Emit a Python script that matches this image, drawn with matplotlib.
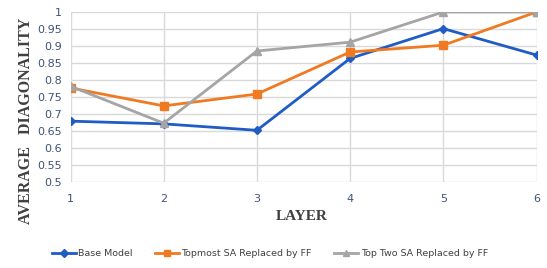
import matplotlib
matplotlib.use("Agg")
import matplotlib.pyplot as plt

layers = [1, 2, 3, 4, 5, 6]
base_model = [0.678, 0.670, 0.651, 0.863, 0.951, 0.873]
topmost_sa = [0.776, 0.723, 0.758, 0.882, 0.902, 1.0]
top_two_sa = [0.781, 0.672, 0.885, 0.911, 1.0, 1.0]
yticks = [0.5, 0.55, 0.6, 0.65, 0.7, 0.75, 0.8, 0.85, 0.9, 0.95, 1.0]
ytick_labels = ["0.5", "0.55", "0.6", "0.65", "0.7", "0.75", "0.8", "0.85", "0.9", "0.95", "1"]

fig = plt.figure(figsize=(5.47, 2.68), dpi=100)
ax = fig.add_axes([70.5/547, 1 - 181.5/268, (536.5-70.5)/547, (181.5-12)/268])

tick_color = "#3f5277"
ax.plot(layers, base_model, color="#1f5cc4", lw=2, marker="D", ms=4.5, label="Base Model")
ax.plot(layers, topmost_sa, color="#f07a22", lw=2, marker="s", ms=5.5, label="Topmost SA Replaced by FF")
ax.plot(layers, top_two_sa, color="#a5a5a5", lw=2, marker="^", ms=5.5, label="Top Two SA Replaced by FF")

ax.set_xlim(1, 6)
ax.set_ylim(0.5, 1.0)
ax.set_xticks(layers)
ax.set_yticks(yticks)
ax.set_yticklabels(ytick_labels)
ax.grid(True, color="#d9d9d9", lw=1)
ax.set_axisbelow(True)
for s in ax.spines.values():
    s.set_visible(False)
ax.tick_params(length=0, labelsize=8, colors=tick_color, pad=6)
ax.tick_params(axis="x", pad=9)

fig.text(302/547, 1 - 216/268, "LAYER", ha="center", va="center",
         family="Liberation Serif", fontweight="bold", fontsize=11, color="#404040")
fig.text(26/547, 1 - 121/268, "AVERAGE   DIAGONALITY", ha="center", va="center", rotation=90,
         family="Liberation Serif", fontweight="bold", fontsize=11.5, color="#404040")

fig.legend(loc="center", bbox_to_anchor=(0.493, 1 - 254/268), ncol=3, frameon=False,
           fontsize=6.8, handlelength=2.6, handletextpad=0.25, columnspacing=2.3,
           labelcolor="#404040", markerscale=0.8)

fig.savefig("out.png", dpi=100)
